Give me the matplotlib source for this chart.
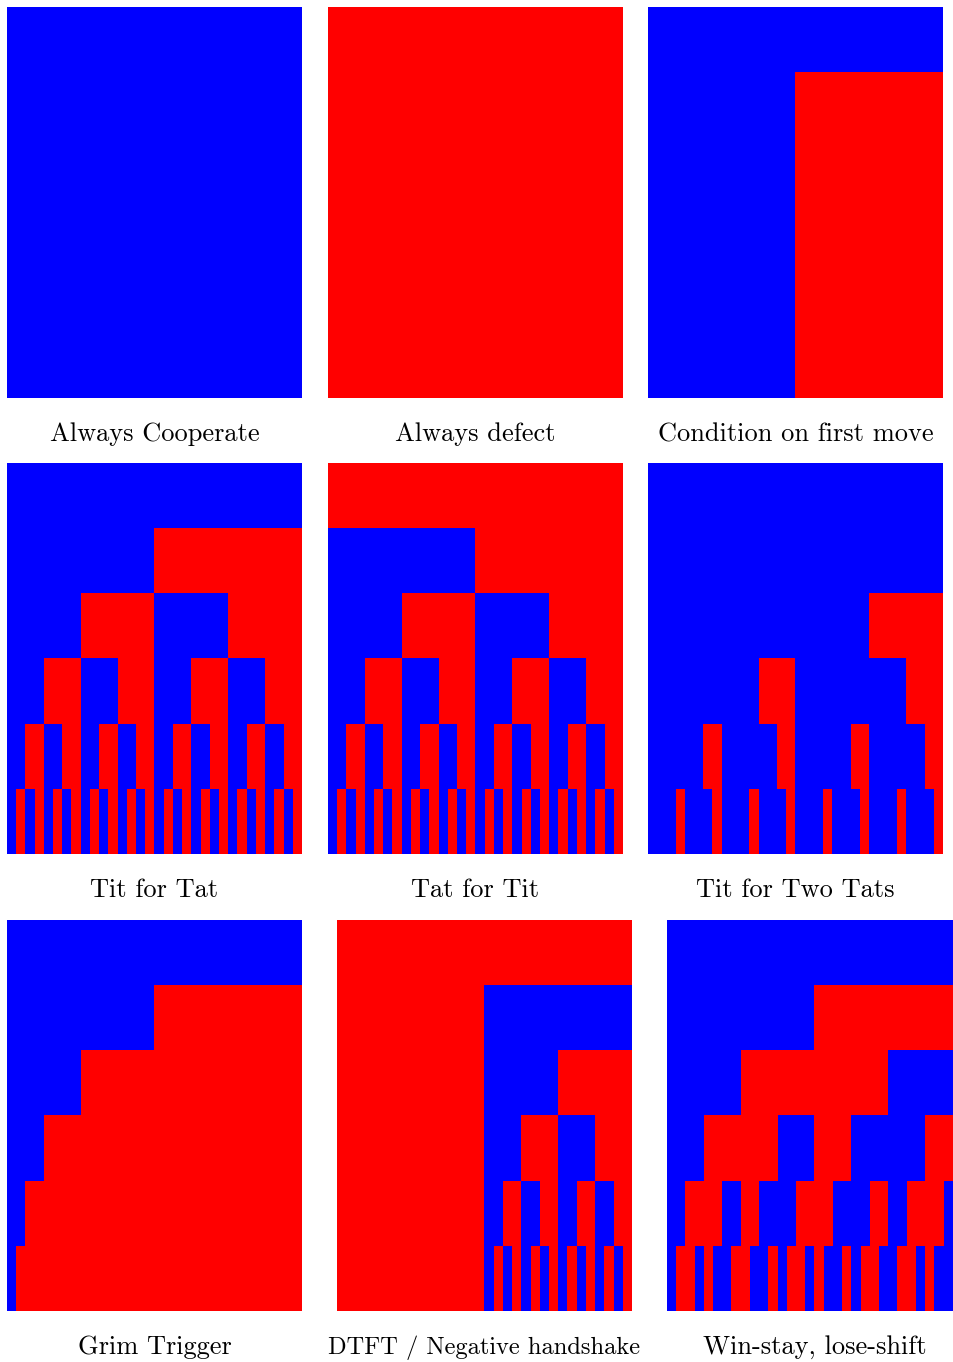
import numpy as np
import matplotlib
matplotlib.use("Agg")
import matplotlib.pyplot as plt
from matplotlib.colors import ListedColormap

plt.rcParams['font.family'] = ['cmr10', 'DejaVu Serif']

# each strategy: 6 rounds, round i has 2**i cells (0 = cooperate/blue, 1 = defect/red)
always_cooperate = ["0", "00", "0000", "00000000", "0" * 16, "0" * 32]
always_defect = ["1", "11", "1111", "11111111", "1" * 16, "1" * 32]
condition_first = ["0", "01", "0011", "00001111", "0" * 8 + "1" * 8, "0" * 16 + "1" * 16]
tit_for_tat = ["0", "01", "0101", "01010101", "01" * 8, "01" * 16]
tat_for_tit = ["1", "01", "0101", "01010101", "01" * 8, "01" * 16]
tit_for_two_tats = ["0", "00", "0001", "00010001", "0001" * 4, "0001" * 8]
grim_trigger = ["0", "01", "0111", "01111111", "0" + "1" * 15, "0" + "1" * 31]
dtft = ["1", "10", "1101", "11110101", "1" * 8 + "01" * 4, "1" * 16 + "01" * 8]
wsls = ["0", "01", "0110", "01101001", "0110100110010110",
        "01101001100101101001011001101001"]

titles = ["Always Cooperate", "Always defect", "Condition on first move",
          "Tit for Tat", "Tat for Tit", "Tit for Two Tats",
          "Grim Trigger", "DTFT / Negative handshake", "Win-stay, lose-shift"]
strategies = [always_cooperate, always_defect, condition_first,
              tit_for_tat, tat_for_tit, tit_for_two_tats,
              grim_trigger, dtft, wsls]

W, H = 954, 1362
fig = plt.figure(figsize=(W / 100, H / 100), dpi=100)

# panel boxes in pixels: (left, top, width, height)
col_x = [[7, 328, 648], [7, 328, 648], [7, 337, 667]]
row_y = [7, 463, 920]
pw, ph = 295, 391
cap_off = 434  # caption baseline below panel top
cap_size = [19, 19, 19, 19, 19, 19, 19, 17.6, 19]

cmap = ListedColormap(["#0000ff", "#ff0000"])

for k, (rows, title) in enumerate(zip(strategies, titles)):
    r, c = divmod(k, 3)
    x0, y0 = col_x[r][c], row_y[r]
    grid = np.array([np.repeat([int(b) for b in row], 32 // len(row)) for row in rows])
    ax = fig.add_axes([x0 / W, 1 - (y0 + ph) / H, pw / W, ph / H])
    ax.imshow(grid, cmap=cmap, vmin=0, vmax=1, aspect='auto', interpolation='nearest')
    ax.axis('off')
    fig.text((x0 + pw / 2) / W, 1 - (y0 + cap_off) / H, title, ha='center',
             va='baseline', fontsize=cap_size[k])

fig.savefig("out.png", dpi=100)
